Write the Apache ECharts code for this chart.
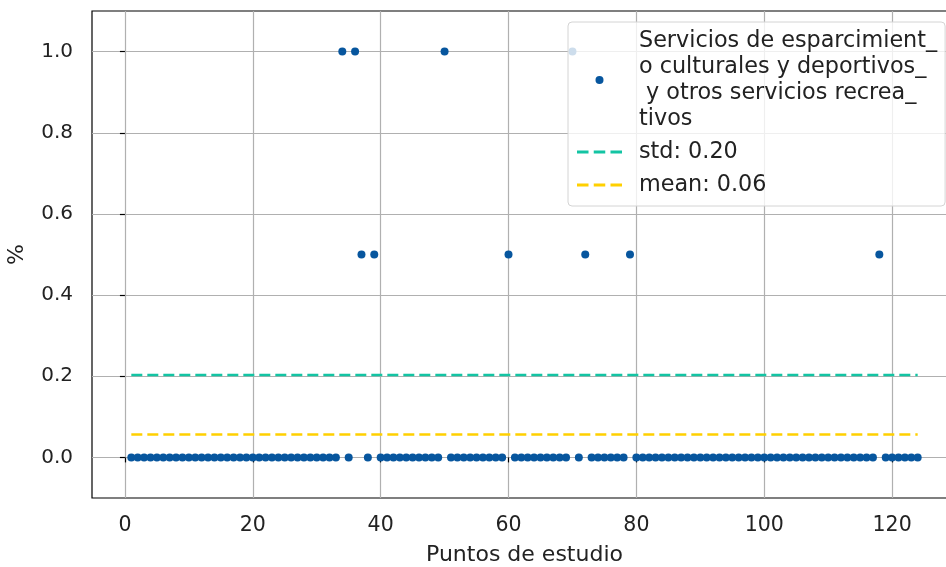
<!DOCTYPE html>
<html>
<head>
<meta charset="utf-8">
<script src="https://cdn.jsdelivr.net/npm/echarts@6/dist/echarts.min.js"></script>
<style>
html,body{margin:0;padding:0;background:#fff;}
#chart{width:946px;height:567px;}
</style>
</head>
<body>
<div id="chart"></div>
<script>
// Study points 1..124
const puntos = [
  1,2,3,4,5,6,7,8,9,10,
  11,12,13,14,15,16,17,18,19,20,
  21,22,23,24,25,26,27,28,29,30,
  31,32,33,34,35,36,37,38,39,40,
  41,42,43,44,45,46,47,48,49,50,
  51,52,53,54,55,56,57,58,59,60,
  61,62,63,64,65,66,67,68,69,70,
  71,72,73,74,75,76,77,78,79,80,
  81,82,83,84,85,86,87,88,89,90,
  91,92,93,94,95,96,97,98,99,100,
  101,102,103,104,105,106,107,108,109,110,
  111,112,113,114,115,116,117,118,119,120,
  121,122,123,124
];
const valores = [
  0,0,0,0,0,0,0,0,0,0,
  0,0,0,0,0,0,0,0,0,0,
  0,0,0,0,0,0,0,0,0,0,
  0,0,0,1,0,1,0.5,0,0.5,0,
  0,0,0,0,0,0,0,0,0,1,
  0,0,0,0,0,0,0,0,0,0.5,
  0,0,0,0,0,0,0,0,0,1,
  0,0.5,0,0,0,0,0,0,0.5,0,
  0,0,0,0,0,0,0,0,0,0,
  0,0,0,0,0,0,0,0,0,0,
  0,0,0,0,0,0,0,0,0,0,
  0,0,0,0,0,0,0,0.5,0,0,
  0,0,0,0
];
const stdValue = 0.2029;
const meanValue = 0.0565;
const xTicks = [0, 20, 40, 60, 80, 100, 120];
const yTicks = [0, 0.2, 0.4, 0.6, 0.8, 1.0];
const seriesName = 'Servicios de esparcimient_\no culturales y deportivos_\n y otros servicios recrea_\ntivos';
const stdName = 'std: 0.20';
const meanName = 'mean: 0.06';

const FONT = 'DejaVu Sans';
const TXT = '#222';
const chart = echarts.init(document.getElementById('chart'), null, {renderer: 'canvas'});
const scatterData = puntos.map((p, i) => [p, valores[i]]);
const first = puntos[0], last = puntos[puntos.length - 1];
const dashIcon = 'path://M0,0h11v3h-11z M16,0h11v3h-11z M32,0h11v3h-11z';

chart.setOption({
  animation: false,
  backgroundColor: '#ffffff',
  textStyle: {fontFamily: FONT},
  grid: {
    left: 92, top: 11, width: 865, height: 487,
    outerBoundsMode: 'none', containLabel: false,
    show: true, borderColor: '#000', borderWidth: 1.2, backgroundColor: 'transparent'
  },
  xAxis: {
    type: 'value', min: -5.15, max: 130.15,
    name: 'Puntos de estudio', nameLocation: 'middle', nameGap: 46,
    nameTextStyle: {fontFamily: FONT, fontSize: 22, color: TXT},
    axisLine: {show: false},
    axisTick: {show: true, length: 5, inside: false, customValues: xTicks, lineStyle: {color: '#000', width: 1.2}},
    axisLabel: {customValues: xTicks, fontFamily: FONT, fontSize: 20.5, color: TXT, margin: 17},
    splitLine: {show: true, lineStyle: {color: '#b0b0b0', width: 1.2}}
  },
  yAxis: {
    type: 'value', min: -0.1, max: 1.1,
    name: '%', nameLocation: 'middle', nameGap: 64, nameRotate: 90,
    nameTextStyle: {fontFamily: FONT, fontSize: 22, color: TXT},
    axisLine: {show: false},
    axisTick: {show: true, length: 5, inside: false, customValues: yTicks, lineStyle: {color: '#000', width: 1.2}},
    axisLabel: {customValues: yTicks, fontFamily: FONT, fontSize: 20, color: TXT, margin: 19,
      formatter: v => v.toFixed(1)},
    splitLine: {show: true, lineStyle: {color: '#b0b0b0', width: 1.2}}
  },
  legend: {
    orient: 'vertical', left: 568, top: 22,
    padding: [6, 8, 8, 9],
    itemGap: 7,
    itemWidth: 45, itemHeight: 8,
    backgroundColor: 'rgba(255,255,255,0.8)',
    borderColor: '#d4d4d4', borderWidth: 1, borderRadius: 4,
    textStyle: {fontFamily: FONT, fontSize: 22.3, color: TXT, lineHeight: 26, padding: [0, 0, 0, 12]},
    data: [
      {name: seriesName, icon: 'circle'},
      {name: stdName, icon: dashIcon, itemStyle: {color: '#13c4a3'}},
      {name: meanName, icon: dashIcon, itemStyle: {color: '#ffd000'}}
    ]
  },
  series: [
    {
      name: seriesName, type: 'scatter', data: scatterData,
      symbol: 'circle', symbolSize: 8,
      itemStyle: {color: '#07569e', opacity: 1}, z: 3
    },
    {
      name: stdName, type: 'line', data: [[first, stdValue], [last, stdValue]],
      showSymbol: false, symbol: 'none',
      lineStyle: {color: '#13c4a3', width: 2.5, type: [11, 5]},
      itemStyle: {color: '#13c4a3'}, z: 2
    },
    {
      name: meanName, type: 'line', data: [[first, meanValue], [last, meanValue]],
      showSymbol: false, symbol: 'none',
      lineStyle: {color: '#ffd000', width: 2.5, type: [11, 5]},
      itemStyle: {color: '#ffd000'}, z: 2
    }
  ]
});
</script>
</body>
</html>
